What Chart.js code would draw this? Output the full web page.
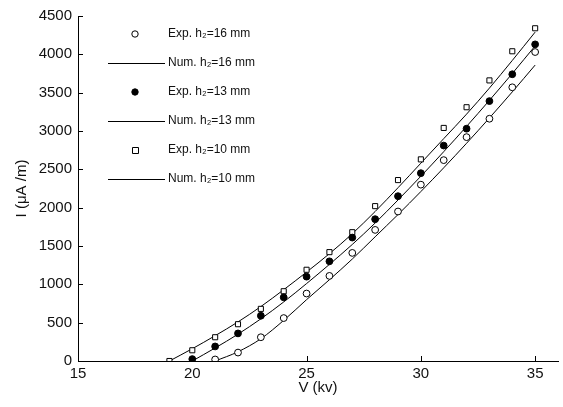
<!DOCTYPE html>
<html>
<head>
<meta charset="utf-8">
<script src="https://cdn.jsdelivr.net/npm/chart.js@4.4.1/dist/chart.umd.min.js"></script>
<style>
    html, body { margin: 0; padding: 0; background: #fff; }
    #wrap { width: 563px; height: 407px; }
</style>
</head>
<body>
<div id="wrap"><canvas id="chart" width="563" height="407"></canvas></div>
<script>
// voltage steps (kV) shared by every series
const voltage = [19, 20, 21, 22, 23, 24, 25, 26, 27, 28, 29, 30, 31, 32, 33, 34, 35];

// measured currents (uA/m), null where no point was plotted
const exp16 = [null, null, 20, 110, 310, 560, 880, 1110, 1410, 1710, 1950, 2300, 2620, 2920, 3160, 3570, 4030];
const exp13 = [null, 25, 190, 360, 590, 830, 1100, 1300, 1610, 1850, 2150, 2450, 2810, 3030, 3390, 3740, 4130];
const exp10 = [0, 140, 310, 480, 680, 910, 1190, 1420, 1680, 2020, 2360, 2630, 3040, 3310, 3660, 4040, 4340];

// numerical curves
const num16 = [null, null, 0, 120, 290, 530, 800, 1060, 1330, 1620, 1910, 2210, 2520, 2840, 3170, 3510, 3860];
const num13 = [null, 0, 170, 350, 550, 770, 1010, 1260, 1520, 1800, 2100, 2410, 2730, 3060, 3400, 3750, 4110];
const num10 = [0, 160, 330, 510, 710, 930, 1160, 1400, 1660, 1950, 2260, 2580, 2900, 3220, 3560, 3920, 4290];

const xTicks = [15, 20, 25, 30, 35];
const yTicks = [0, 500, 1000, 1500, 2000, 2500, 3000, 3500, 4000, 4500];

const labels = [
    'Exp. h\u2082=16 mm',
    'Num. h\u2082=16 mm',
    'Exp. h\u2082=13 mm',
    'Num. h\u2082=13 mm',
    'Exp. h\u2082=10 mm',
    'Num. h\u2082=10 mm',
];

const FONT = '"Liberation Sans", Arial, sans-serif';

function points(values) {
    return voltage.map((v, i) => ({ x: v, y: values[i] })).filter(p => p.y !== null);
}

function expSet(label, values, style, filled) {
    return {
        label,
        data: points(values),
        showLine: false,
        pointStyle: style,
        pointRadius: style === 'rect' ? 3.6 : 3.4,
        pointBorderWidth: 1,
        borderColor: '#000',
        pointBackgroundColor: filled ? '#000' : '#fff',
        backgroundColor: filled ? '#000' : '#fff',
    };
}

function numSet(label, values) {
    return {
        label,
        data: points(values),
        showLine: true,
        borderColor: '#000',
        borderWidth: 1,
        pointRadius: 0,
        cubicInterpolationMode: 'monotone',
        fill: false,
    };
}

// inward tick marks, like the original plot
const innerTicks = {
    id: 'innerTicks',
    afterDraw(chart) {
        const { ctx, chartArea, scales } = chart;
        ctx.save();
        ctx.strokeStyle = '#000';
        ctx.lineWidth = 1;
        ctx.beginPath();
        xTicks.forEach(t => {
            const x = Math.round(scales.x.getPixelForValue(t)) + 0.5;
            ctx.moveTo(x, chartArea.bottom);
            ctx.lineTo(x, chartArea.bottom - 5);
        });
        yTicks.forEach(t => {
            const y = Math.round(scales.y.getPixelForValue(t)) + 0.5;
            ctx.moveTo(chartArea.left, y);
            ctx.lineTo(chartArea.left + 5, y);
        });
        ctx.stroke();
        ctx.restore();
    },
};

// legend drawn inside the plot, one entry per row
const innerLegend = {
    id: 'innerLegend',
    afterDraw(chart) {
        const { ctx, chartArea } = chart;
        const left = chartArea.left;
        ctx.save();
        ctx.font = '12px ' + FONT;
        ctx.textBaseline = 'middle';
        chart.data.datasets.forEach((ds, i) => {
            const y = chartArea.top + 18 + i * 29;
            ctx.strokeStyle = '#000';
            ctx.lineWidth = 1;
            ctx.beginPath();
            if (ds.showLine) {
                ctx.moveTo(left + 30, y + 0.5);
                ctx.lineTo(left + 87, y + 0.5);
                ctx.stroke();
            } else {
                ctx.fillStyle = ds.pointBackgroundColor;
                if (ds.pointStyle === 'rect') {
                    ctx.rect(left + 54.5, y - 2.5, 6, 6);
                } else {
                    ctx.arc(left + 57, y, 3.2, 0, Math.PI * 2);
                }
                ctx.fill();
                ctx.stroke();
            }
            ctx.fillStyle = '#111';
            ctx.fillText(ds.label, left + 90, y);
        });
        ctx.restore();
    },
};

new Chart(document.getElementById('chart'), {
    type: 'scatter',
    data: {
        datasets: [
            expSet(labels[0], exp16, 'circle', false),
            numSet(labels[1], num16),
            expSet(labels[2], exp13, 'circle', true),
            numSet(labels[3], num13),
            expSet(labels[4], exp10, 'rect', false),
            numSet(labels[5], num10),
        ],
    },
    options: {
        responsive: false,
        animation: false,
        devicePixelRatio: 1,
        layout: { padding: { top: 16, right: 5, left: 0, bottom: 0 } },
        plugins: {
            legend: { display: false },
            tooltip: { enabled: false },
        },
        scales: {
            x: {
                type: 'linear',
                min: 15,
                max: 36,
                afterBuildTicks(scale) {
                    scale.ticks = xTicks.map(v => ({ value: v }));
                },
                afterFit(scale) {
                    scale.height = 46;
                },
                grid: { display: false, drawTicks: false },
                border: { display: true, color: '#000', width: 1 },
                ticks: {
                    color: '#111',
                    padding: 4,
                    maxRotation: 0,
                    font: { family: FONT, size: 15 },
                    callback: v => String(v),
                },
                title: {
                    display: true,
                    text: 'V (kv)',
                    color: '#111',
                    padding: { top: 0, bottom: 10 },
                    font: { family: FONT, size: 15 },
                },
            },
            y: {
                type: 'linear',
                min: 0,
                max: 4500,
                afterBuildTicks(scale) {
                    scale.ticks = yTicks.map(v => ({ value: v }));
                },
                afterFit(scale) {
                    scale.width = 78;
                },
                grid: { display: false, drawTicks: false },
                border: { display: true, color: '#000', width: 1 },
                ticks: {
                    color: '#111',
                    padding: 6,
                    font: { family: FONT, size: 15 },
                    callback: v => String(v),
                },
                title: {
                    display: true,
                    text: 'I (\u03bcA /m)',
                    color: '#111',
                    padding: { top: 13, bottom: 0 },
                    font: { family: FONT, size: 15 },
                },
            },
        },
    },
    plugins: [innerTicks, innerLegend],
});
</script>
</body>
</html>
